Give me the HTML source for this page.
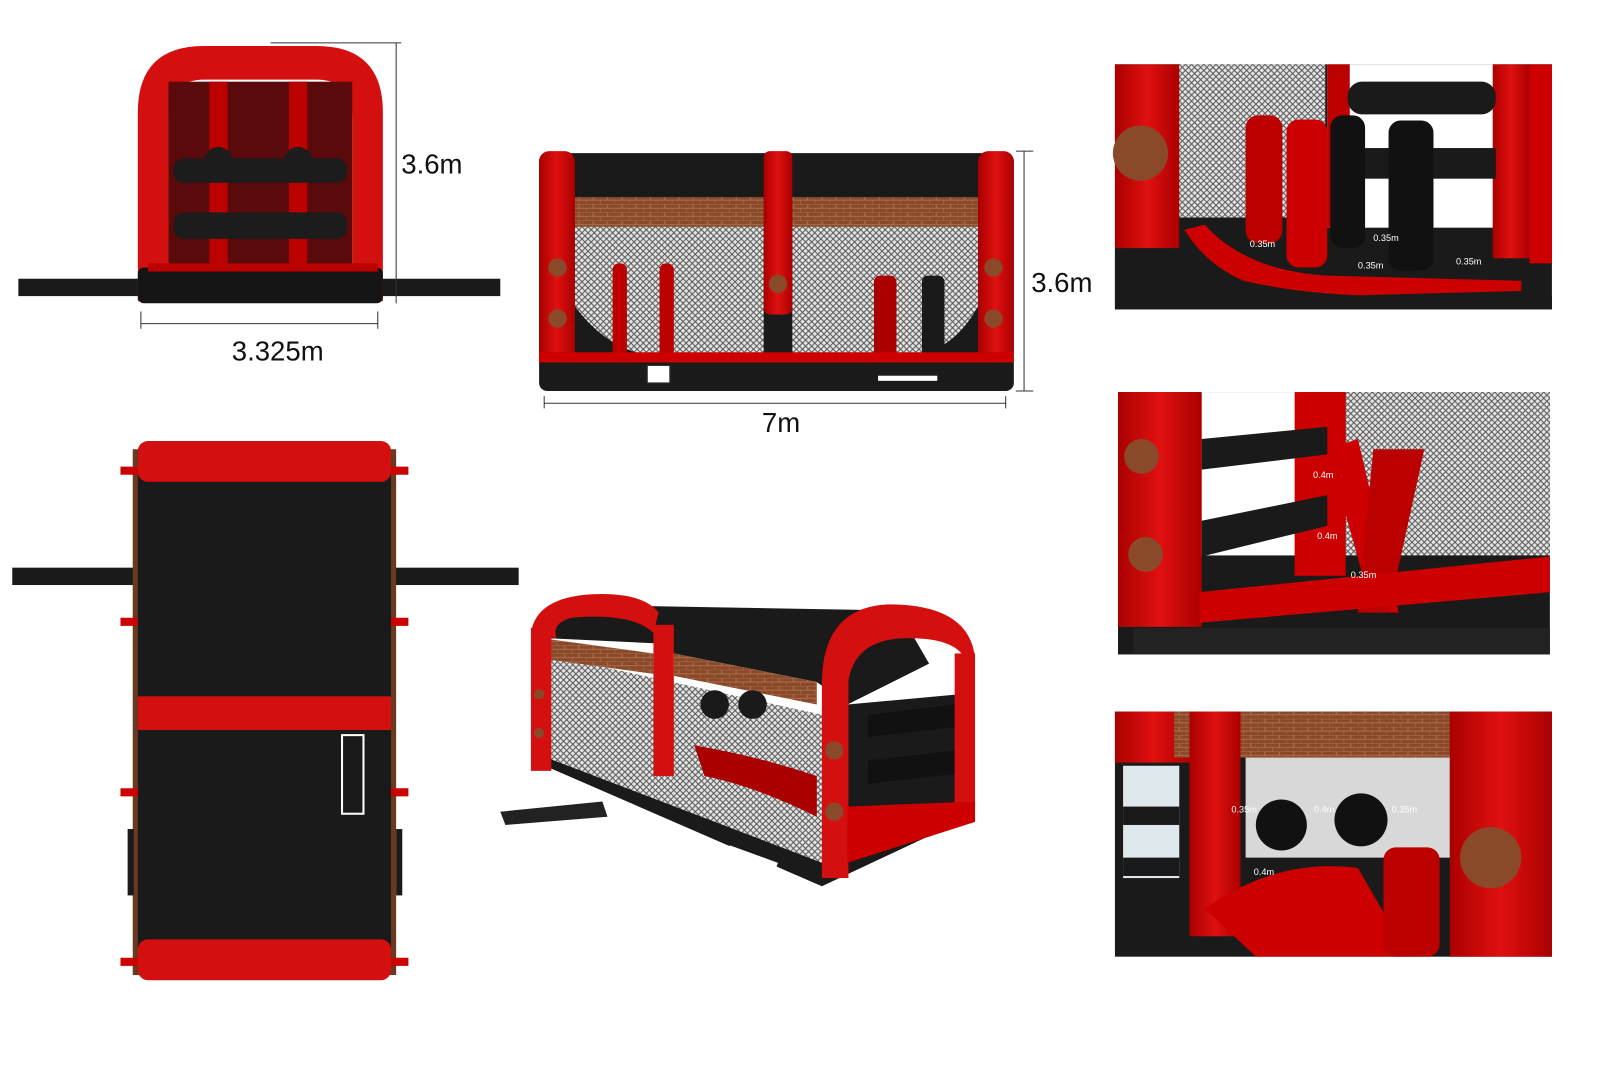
<!DOCTYPE html>
<html><head><style>
html,body{margin:0;padding:0;background:#fff;width:1600px;height:1066px;overflow:hidden}
svg{display:block}
text{font-family:"Liberation Sans",sans-serif}
</style></head><body>
<svg width="1600" height="1066" viewBox="0 0 1600 1066" xmlns="http://www.w3.org/2000/svg">
<defs>
<pattern id="net" width="6" height="6" patternUnits="userSpaceOnUse">
<rect width="6" height="6" fill="#e4e4e4"/><path d="M0 0L6 6M6 0L0 6" stroke="#555" stroke-width="1"/>
</pattern>
<pattern id="brick" width="14" height="8" patternUnits="userSpaceOnUse">
<rect width="14" height="8" fill="#8a4a2a"/><path d="M0 4H14M0 0H14M7 0V4M0 4V8" stroke="#b07050" stroke-width="1"/>
</pattern>
<linearGradient id="rd" x1="0" x2="1"><stop offset="0" stop-color="#a00"/><stop offset=".5" stop-color="#e01010"/><stop offset="1" stop-color="#a00"/></linearGradient>
</defs>
<g transform="scale(1.021)">
<!-- FRONT VIEW -->
<rect x="18" y="273" width="472" height="17" fill="#1a1a1a"/>
<path d="M135 295V110Q135 45 200 45H310Q375 45 375 110V295H345V115Q345 78 310 78H200Q165 78 165 115V295Z" fill="#d40f0f"/>
<rect x="165" y="80" width="180" height="185" fill="#5a0a0a"/>
<rect x="205" y="80" width="18" height="185" fill="#b00"/>
<rect x="283" y="80" width="18" height="185" fill="#b00"/>
<circle cx="214" cy="158" r="14" fill="#1c1c1c"/><circle cx="292" cy="158" r="14" fill="#1c1c1c"/>
<rect x="170" y="155" width="170" height="24" rx="10" fill="#1c1c1c"/>
<rect x="170" y="208" width="170" height="26" rx="10" fill="#1c1c1c"/>
<rect x="135" y="262" width="240" height="35" rx="6" fill="#151515"/>
<rect x="145" y="258" width="225" height="8" fill="#b00"/>
<line x1="265" y1="42" x2="393" y2="42" stroke="#333"/>
<line x1="388" y1="42" x2="388" y2="297" stroke="#333"/>
<text x="393" y="170" font-size="27" fill="#111">3.6m</text>
<line x1="138" y1="317" x2="370" y2="317" stroke="#333"/>
<line x1="138" y1="305" x2="138" y2="322" stroke="#333"/><line x1="370" y1="305" x2="370" y2="322" stroke="#333"/>
<text x="272" y="353" font-size="27" fill="#111" text-anchor="middle">3.325m</text>

<!-- SIDE VIEW -->
<rect x="528" y="150" width="465" height="233" rx="8" fill="#1a1a1a"/>
<rect x="563" y="222" width="185" height="128" fill="url(#net)"/>
<rect x="776" y="222" width="182" height="128" fill="url(#net)"/>
<path d="M563 300Q600 350 655 350H748V383H563Z" fill="#1a1a1a"/>
<path d="M776 350H880Q930 350 958 300V383H776Z" fill="#1a1a1a"/>
<rect x="600" y="258" width="14" height="92" rx="6" fill="#b00"/>
<rect x="646" y="258" width="14" height="92" rx="6" fill="#b00"/>
<rect x="856" y="270" width="22" height="80" rx="6" fill="#a00"/>
<rect x="903" y="270" width="22" height="80" rx="6" fill="#1a1a1a"/>
<rect x="563" y="193" width="185" height="29" fill="url(#brick)"/>
<rect x="776" y="193" width="182" height="29" fill="url(#brick)"/>
<rect x="528" y="148" width="35" height="207" rx="10" fill="url(#rd)"/>
<rect x="748" y="148" width="28" height="160" rx="6" fill="url(#rd)"/>
<rect x="958" y="148" width="35" height="207" rx="10" fill="url(#rd)"/>
<rect x="528" y="345" width="465" height="10" fill="#c00"/>
<circle cx="546" cy="262" r="9" fill="#8a4a2a"/><circle cx="546" cy="312" r="9" fill="#8a4a2a"/>
<circle cx="762" cy="278" r="9" fill="#8a4a2a"/>
<circle cx="973" cy="262" r="9" fill="#8a4a2a"/><circle cx="973" cy="312" r="9" fill="#8a4a2a"/>
<rect x="634" y="358" width="22" height="17" fill="#fff" stroke="#333"/>
<rect x="860" y="368" width="58" height="5" fill="#fff"/>
<line x1="1003" y1="148" x2="1003" y2="383" stroke="#333"/>
<line x1="995" y1="148" x2="1012" y2="148" stroke="#333"/><line x1="995" y1="383" x2="1012" y2="383" stroke="#333"/>
<text x="1010" y="286" font-size="27" fill="#111">3.6m</text>
<line x1="533" y1="395" x2="985" y2="395" stroke="#333"/>
<line x1="533" y1="388" x2="533" y2="400" stroke="#333"/><line x1="985" y1="388" x2="985" y2="400" stroke="#333"/>
<text x="765" y="423" font-size="27" fill="#111" text-anchor="middle">7m</text>

<!-- TOP VIEW -->
<rect x="12" y="556" width="496" height="17" fill="#1a1a1a"/>
<rect x="130" y="440" width="258" height="515" fill="#6a3a20"/>
<rect x="135" y="432" width="248" height="528" rx="10" fill="#1a1a1a"/>
<rect x="135" y="432" width="248" height="40" rx="10" fill="#d40f0f"/>
<rect x="135" y="682" width="248" height="33" fill="#d40f0f"/>
<rect x="135" y="920" width="248" height="40" rx="10" fill="#d40f0f"/>
<rect x="335" y="720" width="21" height="77" fill="none" stroke="#fff" stroke-width="2"/>
<g fill="#c00">
<path d="M118 457h17v8h-17z"/><path d="M383 457h17v8h-17z"/>
<path d="M118 605h17v8h-17z"/><path d="M383 605h17v8h-17z"/>
<path d="M118 772h17v8h-17z"/><path d="M383 772h17v8h-17z"/>
<path d="M118 938h17v8h-17z"/><path d="M383 938h17v8h-17z"/>
</g>
<rect x="125" y="812" width="6" height="65" fill="#1a1a1a"/><rect x="388" y="812" width="6" height="65" fill="#1a1a1a"/>

<!-- PERSPECTIVE VIEW -->
<path d="M490 795L590 785L595 800L495 808Z" fill="#222"/>
<path d="M522 745L805 868L950 800L950 780L805 845L530 730Z" fill="#1a1a1a"/>
<path d="M530 640L805 700L805 845L530 740Z" fill="url(#net)"/>
<path d="M830 690L940 680L945 790L830 820Z" fill="#1a1a1a"/>
<path d="M850 700L935 690L935 712L850 722Z" fill="#111"/><path d="M850 745L935 735L935 758L850 768Z" fill="#111"/>
<path d="M545 592L880 598L910 650L830 690L800 668L660 640L640 630L535 625Z" fill="#1a1a1a"/>
<path d="M530 625L640 640L640 660L530 645Z" fill="url(#brick)"/>
<path d="M660 640L800 668L800 690L660 662Z" fill="url(#brick)"/>
<circle cx="700" cy="690" r="14" fill="#1a1a1a"/><circle cx="737" cy="690" r="14" fill="#1a1a1a"/>
<path d="M680 730Q740 740 800 760L800 800Q740 770 690 760Z" fill="#a00"/>
<path d="M520 620Q525 585 580 582Q630 580 645 600L640 620Q620 600 560 605Q540 610 545 625Z" fill="#d40f0f"/>
<rect x="520" y="615" width="20" height="140" fill="#d40f0f"/>
<rect x="640" y="612" width="20" height="148" fill="#d40f0f"/>
<path d="M805 670Q805 595 870 592Q950 592 955 645L945 645Q935 625 890 625Q830 625 830 680Z" fill="#d40f0f"/>
<rect x="935" y="640" width="20" height="150" fill="#d40f0f"/>
<rect x="805" y="665" width="26" height="195" fill="#d40f0f"/>
<path d="M830 790L955 785L955 805L830 845Z" fill="#c00"/>
<rect x="715" y="828" width="50" height="4" fill="#fff" transform="rotate(20 715 828)"/>
<circle cx="528" cy="680" r="5" fill="#8a4a2a"/><circle cx="528" cy="718" r="5" fill="#8a4a2a"/>
<circle cx="817" cy="735" r="9" fill="#8a4a2a"/><circle cx="817" cy="795" r="9" fill="#8a4a2a"/>

<!-- RIGHT PANEL 1 -->
<rect x="1092" y="63" width="428" height="240" fill="#1a1a1a"/>
<rect x="1153" y="63" width="145" height="150" fill="url(#net)"/>
<rect x="1300" y="63" width="170" height="160" fill="#fff"/>
<rect x="1092" y="63" width="63" height="180" fill="url(#rd)"/>
<rect x="1300" y="63" width="22" height="160" fill="#b00"/>
<rect x="1462" y="63" width="36" height="190" fill="url(#rd)"/>
<rect x="1498" y="63" width="22" height="195" fill="#c00"/>
<rect x="1320" y="80" width="145" height="32" rx="14" fill="#1a1a1a"/>
<rect x="1320" y="145" width="145" height="30" fill="#1a1a1a"/>
<path d="M1160 225Q1200 290 1300 290L1490 285L1490 275L1300 270Q1220 265 1180 220Z" fill="#c00"/>
<path d="M1150 250Q1230 295 1420 290L1520 290V303H1092V245Z" fill="#1a1a1a"/>
<rect x="1220" y="113" width="36" height="125" rx="12" fill="#b00"/>
<rect x="1260" y="117" width="40" height="145" rx="12" fill="#c00"/>
<rect x="1303" y="113" width="34" height="130" rx="12" fill="#111"/>
<rect x="1360" y="118" width="44" height="147" rx="12" fill="#111"/>
<circle cx="1117" cy="150" r="27" fill="#8a4a2a"/>
<g font-size="9" fill="#fff"><text x="1224" y="242">0.35m</text><text x="1345" y="236">0.35m</text><text x="1330" y="263">0.35m</text><text x="1426" y="259">0.35m</text></g>

<!-- RIGHT PANEL 2 -->
<rect x="1095" y="384" width="423" height="257" fill="#1a1a1a"/>
<rect x="1318" y="384" width="200" height="160" fill="url(#net)"/>
<rect x="1175" y="384" width="100" height="160" fill="#fff"/>
<rect x="1095" y="384" width="82" height="230" fill="url(#rd)"/>
<rect x="1268" y="384" width="50" height="180" fill="#c00"/>
<path d="M1177 430L1300 418L1300 445L1177 460Z" fill="#1a1a1a"/>
<path d="M1177 510L1300 485L1300 515L1177 545Z" fill="#1a1a1a"/>
<path d="M1300 440L1330 430L1370 600L1345 600Z" fill="#c00"/>
<path d="M1345 440L1395 440L1360 600L1330 600Z" fill="#b00"/>
<path d="M1175 580L1518 545V580L1175 610Z" fill="#c00"/>
<path d="M1110 615H1518V641H1110Z" fill="#222"/>
<circle cx="1118" cy="447" r="17" fill="#8a4a2a"/><circle cx="1122" cy="543" r="17" fill="#8a4a2a"/>
<g font-size="9" fill="#fff"><text x="1286" y="468">0.4m</text><text x="1290" y="528">0.4m</text><text x="1323" y="566">0.35m</text></g>

<!-- RIGHT PANEL 3 -->
<rect x="1092" y="697" width="428" height="240" fill="#1a1a1a"/>
<rect x="1220" y="740" width="200" height="100" fill="#d8d8d8"/>
<rect x="1100" y="750" width="55" height="110" fill="#dfe8ec"/>
<rect x="1092" y="697" width="75" height="50" fill="url(#rd)"/>
<rect x="1150" y="697" width="270" height="45" fill="url(#brick)"/>
<rect x="1165" y="697" width="50" height="220" fill="url(#rd)"/>
<rect x="1420" y="697" width="100" height="240" fill="url(#rd)"/>
<rect x="1100" y="790" width="55" height="18" fill="#1a1a1a"/><rect x="1100" y="840" width="55" height="18" fill="#1a1a1a"/>
<circle cx="1255" cy="808" r="25" fill="#111"/><circle cx="1333" cy="803" r="26" fill="#111"/>
<path d="M1180 890Q1250 840 1330 850L1380 937H1230Z" fill="#c00"/>
<rect x="1355" y="830" width="55" height="107" rx="12" fill="#b00"/>
<circle cx="1460" cy="840" r="30" fill="#8a4a2a"/>
<g font-size="9" fill="#fff"><text x="1206" y="796">0.35m</text><text x="1287" y="796">0.4m</text><text x="1363" y="796">0.35m</text><text x="1228" y="857">0.4m</text></g>
</g>
</svg>
</body></html>
